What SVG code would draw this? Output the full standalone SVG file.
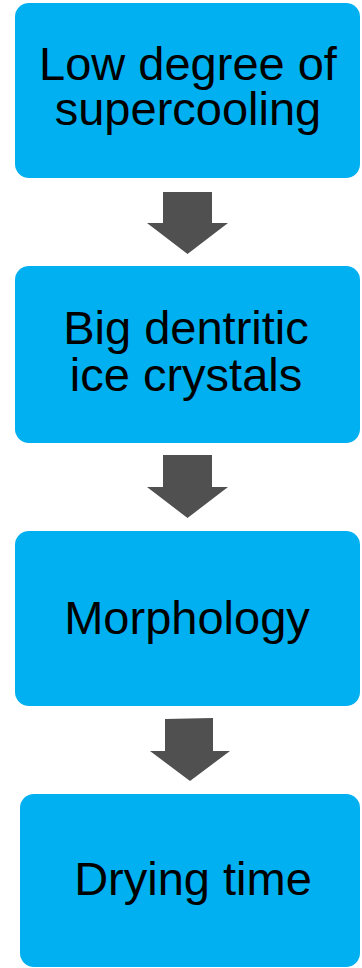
<svg xmlns="http://www.w3.org/2000/svg" width="362" height="968" viewBox="0 0 362 968">
<style>
.box{fill:#00B0F0;}
.lbl{font-family:"Liberation Sans",Arial,sans-serif;font-size:47px;fill:#000;text-anchor:middle;}
.arr{fill:#505050;}
</style>
<rect width="362" height="968" fill="#fff"/>
<g id="connectors">
<polygon class="arr" points="163,192 212,192 212,223 228,223 187.5,254 147,223 163,223"/>
<polygon class="arr" points="163,455 212,455 212,487 228,487 187.5,518 147,487 163,487"/>
<polygon class="arr" points="165,719 213,718 213,751 230,751 190,781 150,751 165,751"/>
</g>
<g id="node1">
<rect class="box" x="15" y="3" width="345" height="175" rx="14"/>
<text class="lbl" x="188" y="80">Low degree of</text>
<text class="lbl" x="188" y="125">supercooling</text>
</g>
<g id="node2">
<rect class="box" x="15" y="266" width="345" height="177" rx="14"/>
<text class="lbl" x="186" y="344">Big dentritic</text>
<text class="lbl" x="186" y="391">ice crystals</text>
</g>
<g id="node3">
<rect class="box" x="15" y="531" width="345" height="175" rx="14"/>
<text class="lbl" x="187" y="634">Morphology</text>
</g>
<g id="node4">
<rect class="box" x="20" y="794" width="340" height="173" rx="14"/>
<text class="lbl" x="193" y="895">Drying time</text>
</g>
</svg>
